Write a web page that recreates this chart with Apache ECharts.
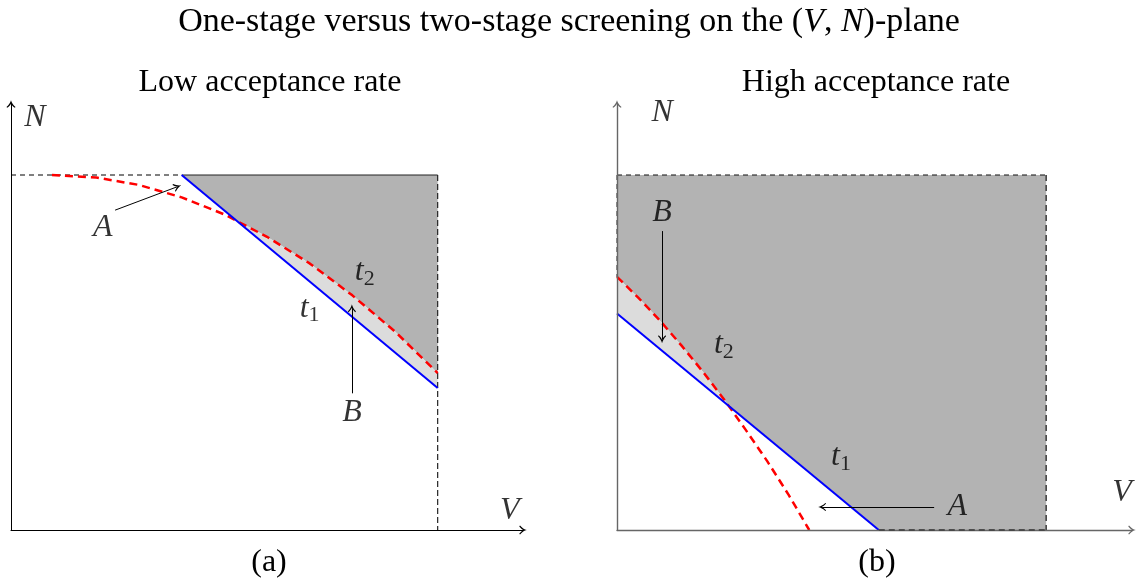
<!DOCTYPE html>
<html>
<head>
<meta charset="utf-8">
<script src="https://cdn.jsdelivr.net/npm/echarts@6/dist/echarts.min.js"></script>
<style>
html, body { margin: 0; background: #fff; }
#chart { width: 1138px; height: 580px; }
</style>
</head>
<body>
<div id="chart"></div>
<script>
// box is V, N in [0, 1] on both panels
// (a) low acceptance rate
const blueA = [[0.40, 1.00], [1.00, 0.40]];
const redA = [[0.096, 1.000], [0.2, 0.993], [0.3, 0.972], [0.4, 0.937], [0.5, 0.889],
              [0.6, 0.826], [0.7, 0.751], [0.8, 0.661], [0.9, 0.559], [1.0, 0.442]];
const crossA = [0.525, 0.875];
const arrowA_A = [[0.244, 0.901], [0.39, 0.967]];
const arrowA_B = [[0.799, 0.385], [0.799, 0.625]];
const textA = [['N', 0.056, 1.163], ['V', 1.169, 0.056], ['A', 0.215, 0.851],
               ['B', 0.799, 0.332], ['t1', 0.700, 0.625], ['t2', 0.829, 0.727]];

// (b) high acceptance rate
const blueB = [[0, 0.61], [0.61, 0]];
const redB = [[0, 0.713], [0.05, 0.654], [0.1, 0.590], [0.15, 0.520], [0.2, 0.446],
              [0.25, 0.367], [0.3, 0.282], [0.35, 0.194], [0.4, 0.099], [0.448, 0.0]];
const crossB = [0.26, 0.35];
const arrowB_B = [[0.105, 0.842], [0.105, 0.537]];
const arrowB_A = [[0.739, 0.065], [0.478, 0.065]];
const textB = [['N', 0.105, 1.177], ['V', 1.177, 0.104], ['B', 0.105, 0.893],
               ['t2', 0.249, 0.521], ['t1', 0.522, 0.206], ['A', 0.793, 0.065]];

const titleText = 'One-stage versus two-stage screening on the ({i|V}, {i|N})-plane';
const panelTitles = ['Low acceptance rate', 'High acceptance rate'];
const panelTags = ['(a)', '(b)'];

const FONT = 'Liberation Serif';
const tikzArrow = 'path://M5,0 C5.6,2.5 7.5,5.5 10,7.5 L9.3,8.4 C7.4,7 6,5.6 5,3.8 C4,5.6 2.6,7 0.7,8.4 L0,7.5 C2.5,5.5 4.4,2.5 5,0 Z';

const darkA = [blueA[0], [1, 1]].concat(redA.filter(p => p[0] > crossA[0]).reverse(), [crossA]);
const lightA = [crossA].concat(redA.filter(p => p[0] > crossA[0]), [blueA[1]]);
const darkB = [[0, 1], [1, 1], [1, 0], blueB[1], crossB].concat(redB.filter(p => p[0] < crossB[0]).reverse());
const lightB = redB.filter(p => p[0] < crossB[0]).concat([crossB, blueB[0]]);

const myChart = echarts.init(document.getElementById('chart'));

function poly(pts, color, gi) {
    return {
        type: 'custom', xAxisIndex: gi, yAxisIndex: gi, silent: true, z: 1,
        data: [[0, 0]],
        renderItem: (params, api) => ({
            type: 'polygon',
            shape: { points: pts.map(p => api.coord(p)) },
            style: { fill: color }
        })
    };
}

function seg(pts, gi, color, width, type, z) {
    return {
        type: 'line', xAxisIndex: gi, yAxisIndex: gi, data: pts, showSymbol: false,
        silent: true, animation: false, z: z || 3,
        lineStyle: { color: color, width: width, type: type }
    };
}

function arrow(coords, gi) {
    return {
        type: 'lines', coordinateSystem: 'cartesian2d', xAxisIndex: gi, yAxisIndex: gi,
        symbol: ['none', tikzArrow], symbolSize: [9, 8], silent: true, z: 6,
        lineStyle: { color: '#000', width: 1, opacity: 1, curveness: 0 },
        data: [{ coords: coords }]
    };
}

function labels(items, gi) {
    return {
        type: 'scatter', xAxisIndex: gi, yAxisIndex: gi, symbolSize: 0, silent: true, z: 7,
        data: items.map(d => [d[1], d[2], d[0]]),
        label: {
            show: true, position: 'inside', color: '#000',
            formatter: p => {
                const s = p.data[2];
                return s.length > 1 ? '{m|' + s[0] + '}{s|' + s[1] + '}' : '{m|' + s + '}';
            },
            rich: {
                m: { fontFamily: FONT, fontStyle: 'italic', fontSize: 32, color: '#000' },
                s: { fontFamily: FONT, fontSize: 22, color: '#000', padding: [15, 0, 0, 0] }
            }
        }
    };
}

function axes(gi, color) {
    return {
        type: 'value', gridIndex: gi, min: 0, max: 1.2, z: 5,
        splitLine: { show: false }, axisTick: { show: false }, axisLabel: { show: false },
        axisLine: { show: true, onZero: false, symbol: ['none', tikzArrow], symbolSize: [9, 8],
                    lineStyle: { color: color, width: gi ? 1.4 : 1 } }
    };
}

function text(str, x, y, size, rich) {
    return { type: 'text', x: x, y: y, style: { text: str, fontFamily: FONT, fontSize: size, fill: '#000',
             align: 'center', verticalAlign: 'middle', rich: rich } };
}

const option = {
    animation: false,
    backgroundColor: '#fff',
    grid: [
        { left: 11, top: 104, width: 512, height: 426 },
        { left: 617, top: 104, width: 515, height: 426 }
    ],
    xAxis: [axes(0, '#000'), axes(1, '#666')],
    yAxis: [axes(0, '#000'), axes(1, '#666')],
    graphic: [
        text(titleText, 569, 22, 34, { i: { fontFamily: FONT, fontStyle: 'italic', fontSize: 34 } }),
        text(panelTitles[0], 270, 83, 32),
        text(panelTitles[1], 876, 83, 32),
        text(panelTags[0], 269, 563, 32),
        text(panelTags[1], 877, 563, 32)
    ],
    series: [
        // panel (a)
        poly(darkA, '#b3b3b3', 0),
        poly(lightA, '#dcdcdc', 0),
        seg([[0, 1], blueA[0]], 0, '#000', 1, [5, 4]),
        seg([blueA[0], [1, 1]], 0, '#222', 1, 'solid'),
        seg([[1, 1], [1, 0]], 0, '#222', 1.2, [6, 3]),
        seg(redA, 0, '#ff0000', 2.5, [8, 5], 4),
        seg(blueA, 0, '#0000ff', 2, 'solid', 4),
        arrow(arrowA_A, 0),
        arrow(arrowA_B, 0),
        labels(textA, 0),
        // panel (b)
        poly(darkB, '#b3b3b3', 1),
        poly(lightB, '#dcdcdc', 1),
        seg([[0, 1], [1, 1]], 1, '#111', 1.2, [5, 4]),
        seg([[0, 1], [0, redB[0][1]]], 1, '#444', 1.2, [5, 4]),
        seg([[1, 1], [1, 0]], 1, '#444', 1.6, [6, 4]),
        seg([blueB[1], [1, 0]], 1, '#333', 1.6, [6, 4], 6),
        seg(redB, 1, '#ff0000', 2.5, [8, 5], 4),
        seg(blueB, 1, '#0000ff', 2, 'solid', 4),
        arrow(arrowB_B, 1),
        arrow(arrowB_A, 1),
        labels(textB, 1)
    ]
};

myChart.setOption(option);
</script>
</body>
</html>
